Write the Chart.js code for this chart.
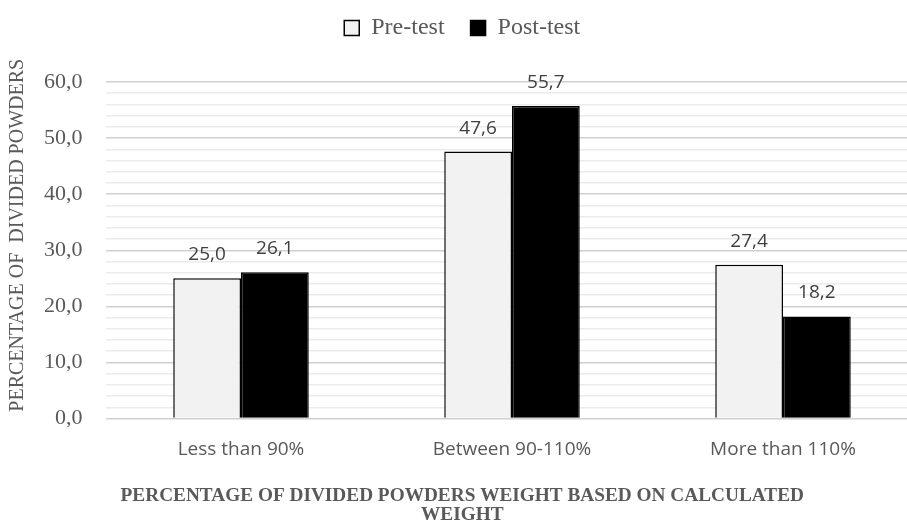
<!DOCTYPE html>
<html>
<head>
<meta charset="utf-8">
<script src="https://cdn.jsdelivr.net/npm/chart.js@4.4.1/dist/chart.umd.min.js"></script>
<style>
  html, body { margin: 0; padding: 0; background: #fff; overflow: hidden; }
  #wrap { width: 907px; height: 528px; overflow: hidden; }
</style>
</head>
<body>
<div id="wrap"><canvas id="chart" width="930" height="528"></canvas></div>
<script>
// data
const categories = ['Less than 90%', 'Between 90-110%', 'More than 110%'];
const preTest = [25.0, 47.6, 27.4];
const postTest = [26.1, 55.7, 18.2];

const serif = '"Liberation Serif", "DejaVu Serif", serif';
const sans = '"Open Sans", "Noto Sans", sans-serif';
const fmt = v => v.toFixed(1).replace('.', ',');

// labels above the bars
const valueLabels = {
    id: 'valueLabels',
    afterDatasetsDraw(chart) {
        const ctx = chart.ctx;
        ctx.save();
        ctx.font = '19px ' + sans;
        ctx.fillStyle = '#404040';
        ctx.textAlign = 'center';
        ctx.textBaseline = 'alphabetic';
        chart.data.datasets.forEach((ds, i) => {
            chart.getDatasetMeta(i).data.forEach((bar, j) => {
                ctx.fillText(fmt(ds.data[j]), bar.x, bar.y - 18);
            });
        });
        ctx.restore();
    }
};

// more room between legend and plot
const legendGap = {
    id: 'legendGap',
    beforeInit(chart) {
        const fit = chart.legend.fit;
        chart.legend.fit = function () {
            fit.call(this);
            this.height += 32;
        };
    }
};

new Chart(document.getElementById('chart'), {
    type: 'bar',
    data: {
        labels: categories,
        datasets: [
            {
                label: 'Pre-test',
                data: preTest,
                backgroundColor: '#f2f2f2',
                borderColor: '#000',
                borderWidth: 1.5,
                borderSkipped: 'bottom'
            },
            {
                label: 'Post-test',
                data: postTest,
                backgroundColor: '#000',
                borderColor: '#000',
                borderWidth: 1.5,
                borderSkipped: 'bottom'
            }
        ]
    },
    options: {
        responsive: false,
        animation: false,
        layout: { padding: { left: 6, right: 11.5, top: -10, bottom: 0 } },
        datasets: {
            bar: { categoryPercentage: 0.5, barPercentage: 1.0 }
        },
        plugins: {
            legend: {
                position: 'top',
                labels: {
                    font: { family: serif, size: 24 },
                    color: '#595959',
                    boxWidth: 15,
                    boxHeight: 15,
                    padding: 26,
                    generateLabels: chart => chart.data.datasets.map((ds, i) => ({
                        text: ds.label,
                        fillStyle: ds.backgroundColor,
                        strokeStyle: '#000',
                        lineWidth: 1.5,
                        fontColor: '#595959',
                        datasetIndex: i
                    }))
                }
            },
            title: {
                display: true,
                position: 'bottom',
                text: ['PERCENTAGE OF DIVIDED POWDERS WEIGHT BASED ON CALCULATED', 'WEIGHT'],
                font: { family: serif, size: 19.3, weight: 'bold', lineHeight: 0.95 },
                color: '#595959',
                padding: { top: 6, bottom: 4 }
            },
            tooltip: { enabled: false }
        },
        scales: {
            x: {
                grid: { display: false, drawTicks: false },
                border: { display: false },
                ticks: {
                    font: { family: sans, size: 19 },
                    color: '#595959',
                    padding: 20
                }
            },
            y: {
                min: 0,
                max: 60,
                border: { display: false },
                afterFit: scale => { scale.width = 99.5; },
                grid: {
                    color: c => (c.tick.value % 10 === 0 ? '#d0d0d0' : '#ebebeb'),
                    lineWidth: 1.5,
                    drawTicks: false
                },
                ticks: {
                    stepSize: 2,
                    autoSkip: false,
                    font: { family: serif, size: 22 },
                    color: '#595959',
                    padding: 23,
                    callback: v => (v % 10 === 0 ? fmt(v) : '')
                },
                title: {
                    display: true,
                    text: '\u00a0\u00a0\u00a0\u00a0\u00a0\u00a0PERCENTAGE OF  DIVIDED POWDERS',
                    font: { family: serif, size: 20 },
                    color: '#595959',
                    padding: { top: 0, bottom: 6 }
                }
            }
        }
    },
    plugins: [valueLabels, legendGap]
});
</script>
</body>
</html>
